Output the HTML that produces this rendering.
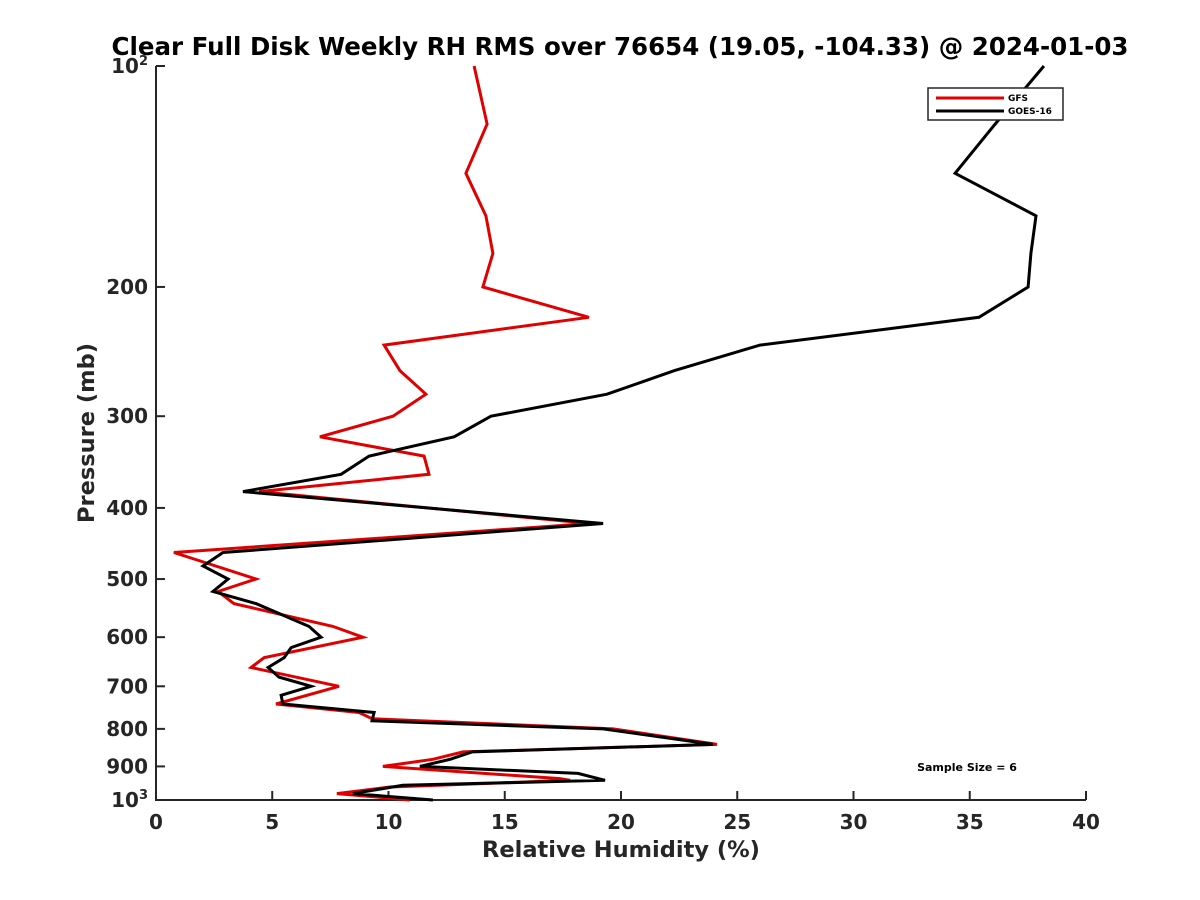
<!DOCTYPE html>
<html><head><meta charset="utf-8"><style>
body{margin:0;background:#fff;}
svg{display:block;font-family:"DejaVu Sans","Liberation Sans",sans-serif;}
</style></head><body>
<svg id="chart" width="1200" height="900"></svg>
<script>
const xTicks=[0,5,10,15,20,25,30,35,40];
const yTicks=[100,200,300,400,500,600,700,800,900,1000];
const gfsP=[100,120,140,160,180,200,220,240,260,280,300,320,340,360,380,420,460,500,520,540,580,600,640,660,700,740,760,775,800,840,860,880,900,935,940,960,980,1000];
const gfsV=[13.68,14.24,13.33,14.19,14.49,14.06,18.62,9.81,10.49,11.61,10.19,7.05,11.53,11.74,4.43,18.67,0.77,4.30,2.67,3.35,7.61,8.90,4.65,4.09,7.87,5.16,8.73,9.29,19.66,24.13,13.20,11.91,9.76,17.38,17.81,10.06,7.78,10.92];
const goesP=[100,120,140,160,180,200,220,240,260,280,300,320,340,360,380,420,460,480,500,520,540,580,600,620,640,660,680,700,720,740,760,780,800,840,860,880,900,920,940,955,980,1000];
const goesV=[38.19,36.09,34.37,37.85,37.63,37.51,35.40,25.98,22.3,19.40,14.41,12.82,9.16,7.96,3.74,19.23,2.88,2.02,3.10,2.45,4.30,6.58,7.10,5.81,5.51,4.82,5.29,6.67,5.38,5.46,9.38,9.29,19.23,23.96,13.59,12.65,11.35,18.15,19.31,10.62,8.47,11.91];

const NS='http://www.w3.org/2000/svg';
const svg=document.getElementById('chart');
const X0=156,X1=1086,Y0=66,Y1=800;
const xs=v=>X0+(v-0)/40*(X1-X0);
const ys=p=>Y0+(Math.log10(p)-2)*(Y1-Y0);
function el(tag,attrs,parent){const e=document.createElementNS(NS,tag);for(const k in attrs)e.setAttribute(k,attrs[k]);(parent||svg).appendChild(e);return e;}

let t=el('text',{x:620,y:55,'text-anchor':'middle','font-size':24.5,'font-weight':'bold',fill:'#000'});
t.textContent='Clear Full Disk Weekly RH RMS over 76654 (19.05, -104.33) @ 2024-01-03';



let ax=el('path',{d:`M${X0},${Y0}L${X0},${Y1}L${X1},${Y1}`,stroke:'#262626','stroke-width':2,fill:'none'});



xTicks.forEach(v=>{
  const x=xs(v);
  const tk=el('line',{x1:x,y1:Y1,x2:x,y2:Y1-9,stroke:'#262626','stroke-width':2});
  
  
  const l=el('text',{x:x,y:829,'text-anchor':'middle','font-size':20,'font-weight':'bold',fill:'#262626'});
  l.textContent=v;
  
  
});
yTicks.forEach(p=>{
  const y=ys(p);
  const tk=el('line',{x1:X0,y1:y,x2:X0+9,y2:y,stroke:'#262626','stroke-width':2});
  
  
  const l=el('text',{x:148,y:y+7,'text-anchor':'end','font-size':20,'font-weight':'bold',fill:'#262626'});
  if(p===100||p===1000){
    l.textContent='10';
    const s=el('tspan',{dy:-8,'font-size':13},l);
    s.textContent=p===100?'2':'3';
  } else l.textContent=p;
  
  
});

let xl=el('text',{x:621,y:857,'text-anchor':'middle','font-size':22.5,'font-weight':'bold',fill:'#262626'});
xl.textContent='Relative Humidity (%)';


let yl=el('text',{x:0,y:0,'text-anchor':'middle','font-size':22.5,'font-weight':'bold',fill:'#262626',transform:'translate(94,433) rotate(-90)'});
yl.textContent='Pressure (mb)';



function series(P,V,color,name){
  const d=P.map((p,i)=>(i?'L':'M')+xs(V[i]).toFixed(1)+','+ys(p).toFixed(1)).join('');
  const e=el('path',{d:d,stroke:color,'stroke-width':3,fill:'none','stroke-linejoin':'miter'});
  
  
}
series(gfsP,gfsV,'#e00000','gfs-line');
series(goesP,goesV,'#000','goes16-line');

const lg=el('g',{});


el('rect',{x:928,y:88,width:135,height:32,fill:'#fff',stroke:'#262626','stroke-width':1.5},lg);
el('line',{x1:936,y1:98,x2:1004,y2:98,stroke:'#e00000','stroke-width':3},lg);
el('line',{x1:936,y1:111,x2:1004,y2:111,stroke:'#000','stroke-width':3},lg);
let a=el('text',{x:1008,y:101,'font-size':9,'font-weight':'bold'},lg);a.textContent='GFS';
let b=el('text',{x:1008,y:114,'font-size':9,'font-weight':'bold'},lg);b.textContent='GOES-16';

let ss=el('text',{x:967,y:771,'text-anchor':'middle','font-size':11,'font-weight':'bold',fill:'#000'});
ss.textContent='Sample Size = 6';


</script>
</body></html>
